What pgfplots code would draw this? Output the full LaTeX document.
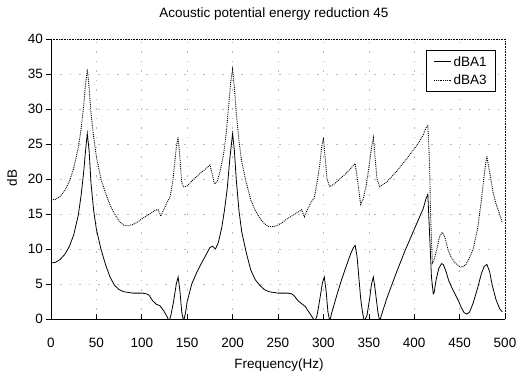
\documentclass[border=0pt]{standalone}
\usepackage{fontspec}
\setmainfont{Liberation Sans}
\usepackage{pgfplots}
\pgfplotsset{compat=1.18}
\begin{document}
\begin{tikzpicture}
\begin{axis}[
  scale only axis,
  width=454pt, height=280pt,
  xmin=0, xmax=500, ymin=0, ymax=40,
  xtick={0,50,...,500}, ytick={0,5,...,40},
  tick pos=left,
  xtick align=inside, ytick align=outside,
  major tick length=5pt,
  tick style={black, line width=0.6pt},
  /pgf/number format/assume math mode=true,
  font=\fontsize{13.5}{16}\selectfont,
  xticklabel style={anchor=base, yshift=-28pt, inner sep=0pt},
  yticklabel style={anchor=east, inner sep=0pt, xshift=-3pt},
  axis line style={black, densely dotted, line width=0.6pt},
  grid=major,
  grid style={gray!55, dash pattern=on 1.5pt off 8pt, line width=0.6pt},
  title={Acoustic potential energy reduction 45},
  title style={at={(axis description cs:0.491,1)}, anchor=base, yshift=15pt},
  xlabel={Frequency(Hz)},
  xlabel style={at={(axis description cs:0.502,0)}, anchor=base, yshift=-49pt},
  ylabel={dB},
  ylabel style={at={(axis description cs:-0.086,0.504)}, anchor=center, rotate=0},
  legend style={at={(axis description cs:0.980,0.961)}, anchor=north east,
    draw=black, line width=0.6pt, inner xsep=7pt, inner ysep=4pt, row sep=3pt,
    font=\fontsize{13.5}{16}\selectfont},
  legend image post style={line width=0.8pt},
  legend cell align=left,
  clip=true,
]
\addplot[black, line width=0.8pt] coordinates {
(0,8.0)(5,8.1)(10,8.5)(15,9.2)(20,10.3)(25,12.0)(30,14.8)(33,17.5)(36,21.0)(38,24.0)(40,26.5)
(42,24.0)(44,19.5)(47,15.5)(50,12.8)(55,10.0)(60,7.8)(65,6.0)(70,4.8)(75,4.2)(80,3.9)(90,3.7)
(100,3.7)(105,3.6)(108,3.4)(112,2.6)(116,2.1)(120,1.9)(124,1.2)(128,0.3)(130,-0.3)
(132,0.5)(135,2.5)(138,5.0)(140,6.0)(142,4.0)(144,1.0)(146,-0.3)
(148,0.8)(150,2.5)(155,5.0)(160,6.5)(165,7.8)(170,9.0)(175,10.2)(178,10.4)(181,10.0)(184,10.8)
(188,13.0)(191,15.5)(194,18.5)(197,23.0)(200,26.5)(202,24.0)(204,20.0)(207,15.5)(210,12.5)
(215,9.5)(220,7.0)(225,5.6)(230,4.8)(235,4.2)(240,3.9)(250,3.7)(260,3.7)(265,3.6)(268,3.3)
(272,2.6)(276,2.2)(280,1.8)(284,1.0)(288,0.2)(291,-0.3)
(293,0.5)(296,2.8)(299,5.2)(301,6.0)(303,4.0)(305,1.0)(307,-0.3)
(309,0.8)(315,3.5)(320,5.6)(325,7.5)(330,9.3)(333,10.2)(335,10.5)(337,9.0)(339,6.0)(341,3.0)
(343,1.0)(345,-0.3)
(348,0.5)(351,3.0)(353,5.0)(355,6.0)(357,4.2)(360,1.0)(362,-0.3)
(365,1.0)(370,3.0)(380,6.5)(390,9.8)(400,12.8)(405,14.3)(410,15.8)(413,17.2)(415,17.8)
(417,12.0)(419,6.0)(421,3.6)(422,3.8)(424,5.5)(427,7.2)(430,7.9)(432,7.8)(435,6.8)(438,5.5)
(441,4.6)(444,3.8)(448,2.8)(452,1.6)(455,0.9)(458,0.7)(461,1.0)(465,2.3)(470,4.5)(474,6.5)
(477,7.5)(480,7.8)(483,6.8)(486,4.8)(490,2.8)(494,1.5)(497,1.0)
};
\addlegendentry{dBA1}
\addplot[black, densely dotted, line width=0.9pt] coordinates {
(0,17.0)(5,17.1)(10,17.5)(15,18.3)(20,19.6)(25,21.5)(30,24.5)(33,27.0)(36,30.5)(38,33.5)(40,35.7)
(42,33.0)(44,29.5)(47,26.0)(50,23.2)(55,20.0)(60,18.0)(65,16.3)(70,15.0)(75,14.0)(80,13.4)
(85,13.3)(90,13.5)(95,13.8)(100,14.3)(105,14.7)(110,15.1)(115,15.6)(118,15.6)(121,14.7)
(124,15.6)(128,16.7)(131,17.4)(134,19.5)(136,22.0)(138,24.5)(140,26.0)(142,23.0)(144,19.5)
(146,18.9)(150,19.0)(155,19.7)(160,20.3)(165,20.9)(170,21.4)(175,22.0)(177,21.0)(180,19.3)
(183,19.6)(186,21.0)(190,23.5)(193,26.5)(196,31.0)(198,34.0)(200,35.7)(202,33.0)(204,29.5)
(207,25.5)(210,22.5)(215,19.5)(220,17.0)(225,15.5)(230,14.4)(235,13.6)(240,13.2)(245,13.2)
(250,13.4)(255,13.8)(260,14.3)(265,14.7)(270,15.1)(276,15.6)(279,14.6)(283,15.8)(287,16.8)
(290,17.3)(293,19.5)(296,22.0)(298,24.5)(300,25.9)(302,23.0)(304,20.0)(307,18.9)(312,19.3)
(318,20.0)(325,20.8)(330,21.5)(335,22.2)(338,19.5)(341,16.4)(344,17.2)(347,19.0)(350,21.5)
(353,24.5)(355,25.9)(357,23.0)(359,20.0)(362,18.9)(370,19.6)(380,21.0)(390,22.6)(400,24.3)
(405,25.2)(410,26.3)(413,27.3)(415,27.7)(417,22.0)(418,15.0)(420,8.0)(422,8.5)(425,10.0)
(428,11.8)(431,12.4)(434,11.6)(437,10.0)(440,9.0)(445,8.0)(450,7.5)(453,7.4)(457,7.8)
(460,8.5)(465,10.0)(470,13.0)(474,17.0)(477,20.5)(480,23.3)(483,21.0)(487,18.0)(490,16.5)
(494,15.0)(497,13.8)
};
\addlegendentry{dBA3}
\draw[black, line width=0.7pt] (rel axis cs:0,1) -- (rel axis cs:0,0) -- (rel axis cs:1,0);
\end{axis}
\pgfresetboundingbox
\path[use as bounding box] (-51pt,-56pt) rectangle (465pt,319pt);
\end{tikzpicture}
\end{document}
